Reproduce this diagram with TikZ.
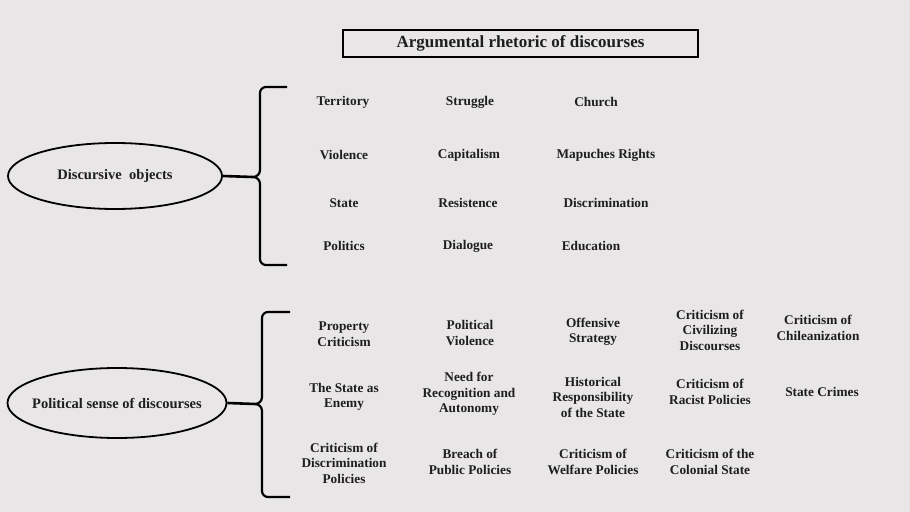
\documentclass[tikz,border=0pt]{standalone}
\usepackage{fontspec}
\setmainfont{Liberation Serif}
\usetikzlibrary{shapes.geometric}
\definecolor{bggray}{HTML}{E8E6E6}
\definecolor{inkgray}{HTML}{1E1E1E}
\tikzset{
  item/.style={font=\fontsize{13.3bp}{15.5bp}\selectfont\bfseries, text=inkgray, align=center, inner sep=0pt},
  oval/.style={ellipse, draw=black, line width=1.8bp, inner xsep=-12bp, inner ysep=0pt, font=\fontsize{14.5bp}{17bp}\selectfont\bfseries, text=inkgray},
  titlebox/.style={draw=black, line width=2bp, minimum width=355bp, minimum height=27bp, inner sep=0pt, font=\fontsize{17bp}{19bp}\selectfont\bfseries, text=inkgray},
  bracket/.style={draw=black, line width=2.2bp, line join=round},
  link/.style={draw=black, line width=2.6bp}
}
\begin{document}
\begin{tikzpicture}[x=1bp,y=-1bp]
\fill[bggray] (0,0) rectangle (910,512);
\useasboundingbox (0,0) rectangle (910,512);

\node[titlebox] (title) at (520.5,43.5) {Argumental rhetoric of discourses};

% top group
\node[oval, minimum width=214bp, minimum height=66bp] (dobj) at (115,176) {Discursive\ \ objects};
\coordinate (tipA) at (253,177);
\draw[bracket] (287,87) -- (266,87) to[out=180,in=90] (260,93) -- (260,170) to[out=-90,in=0] (tipA) to[out=0,in=90] (260,184) -- (260,259) to[out=-90,in=180] (266,265) -- (287,265);
\draw[link] (dobj.east) -- (tipA);

\node[item] (t1) at (343,102) {Territory};
\node[item] (t2) at (470,102) {Struggle};
\node[item] (t3) at (596,102) {Church};
\node[item] (t4) at (344,155) {Violence};
\node[item] (t5) at (469,155) {Capitalism};
\node[item] (t6) at (606,155) {Mapuches Rights};
\node[item] (t7) at (344,203) {State};
\node[item] (t8) at (468,203) {Resistence};
\node[item] (t9) at (606,203) {Discrimination};
\node[item] (t10) at (344,246) {Politics};
\node[item] (t11) at (468,246) {Dialogue};
\node[item] (t12) at (591,246) {Education};

% bottom group
\node[oval, minimum width=219bp, minimum height=70bp] (psense) at (117,403) {Political sense of discourses};
\coordinate (tipB) at (255,404);
\draw[bracket] (290,312) -- (268,312) to[out=180,in=90] (262,318) -- (262,397) to[out=-90,in=0] (tipB) to[out=0,in=90] (262,411) -- (262,491) to[out=-90,in=180] (268,497) -- (290,497);
\draw[link] (psense.east) -- (tipB);

\node[item] (p1) at (344,334) {Property\\Criticism};
\node[item] (p2) at (470,333) {Political\\Violence};
\node[item] (p3) at (593,332) {Offensive\\Strategy};
\node[item] (p4) at (710,330) {Criticism of\\Civilizing\\Discourses};
\node[item] (p5) at (818,328) {Criticism of\\Chileanization};
\node[item] (p6) at (344,397) {The State as\\Enemy};
\node[item] (p7) at (469,394) {Need for\\Recognition and\\Autonomy};
\node[item] (p8) at (593,397) {Historical\\Responsibility\\of the State};
\node[item] (p9) at (710,392) {Criticism of\\Racist Policies};
\node[item] (p10) at (822,392) {State Crimes};
\node[item] (p11) at (344,463) {Criticism of\\Discrimination\\Policies};
\node[item] (p12) at (470,462) {Breach of\\Public Policies};
\node[item] (p13) at (593,462) {Criticism of\\Welfare Policies};
\node[item] (p14) at (710,462) {Criticism of the\\Colonial State};
\end{tikzpicture}
\end{document}
